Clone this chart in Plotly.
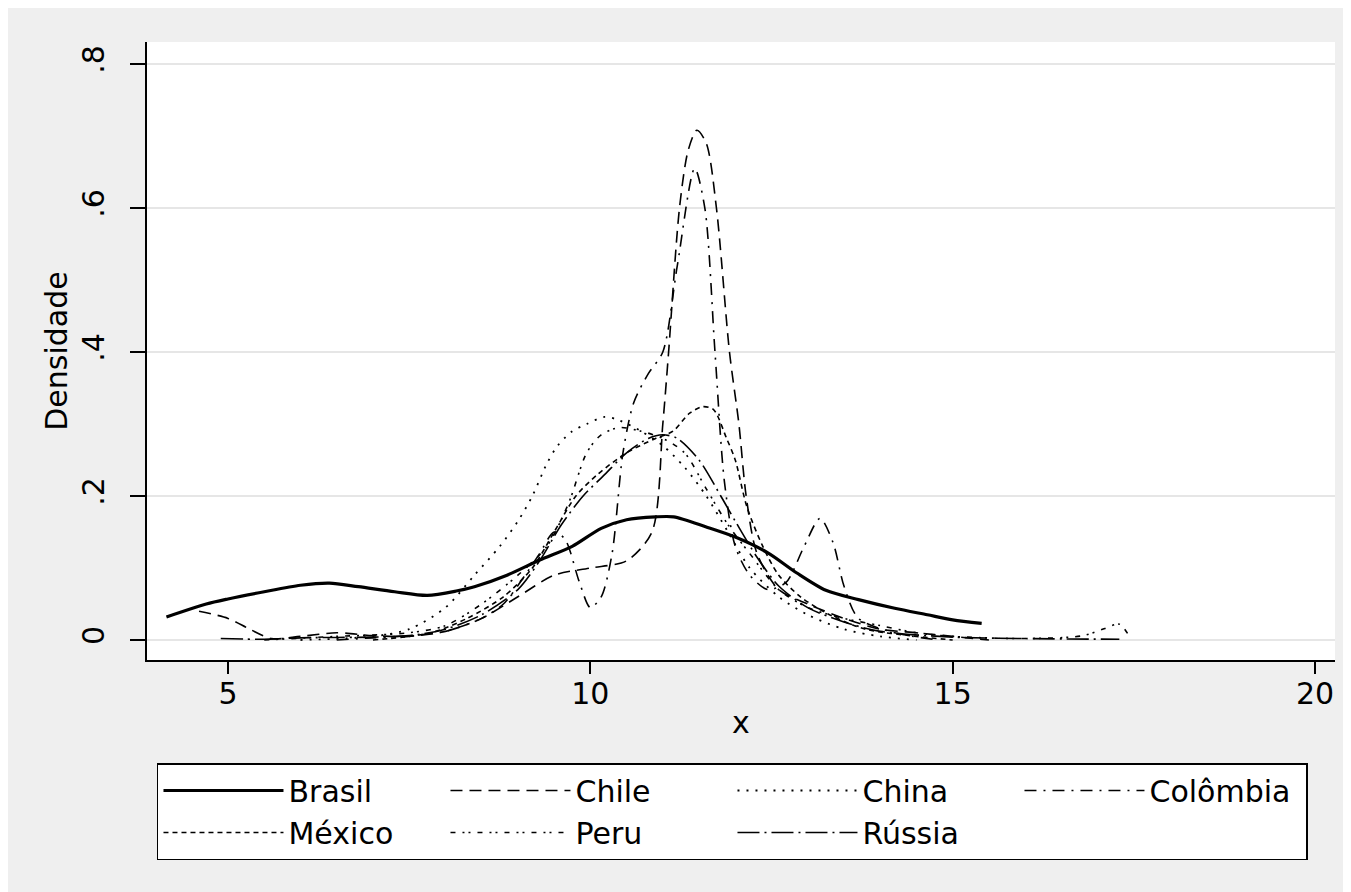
import plotly.graph_objects as go

# ---------------- data ----------------
brasil_x = [4.15, 4.7, 5.0, 5.5, 6.0, 6.4, 6.8, 7.3, 7.75, 8.15, 8.4, 8.85, 9.3, 9.75, 10.15,
            10.5, 10.9, 11.15, 11.6, 12.0, 12.45, 12.85, 13.25, 13.7, 14.2, 14.65, 15.0, 15.4]
brasil_y = [0.032, 0.05, 0.057, 0.067, 0.076, 0.079, 0.074, 0.067, 0.062, 0.068, 0.074, 0.09,
            0.111, 0.13, 0.155, 0.167, 0.171, 0.171, 0.157, 0.143, 0.121, 0.093, 0.069, 0.056,
            0.044, 0.035, 0.028, 0.023]

chile_x = [4.6, 5.0, 5.3, 5.6, 6.0, 6.5, 7.0, 7.5, 8.0, 8.5, 9.0, 9.5, 10.0, 10.5, 10.85, 11.0,
           11.08, 11.23, 11.35, 11.47, 11.6, 11.74, 11.92, 12.05, 12.15, 12.3, 12.6, 13.0, 13.5,
           14.0, 14.5, 15.0, 15.5]
chile_y = [0.04, 0.03, 0.015, 0.002, 0.005, 0.01, 0.006, 0.005, 0.012, 0.03, 0.06, 0.09, 0.10,
           0.11, 0.15, 0.30, 0.40, 0.60, 0.68, 0.708, 0.69, 0.60, 0.40, 0.30, 0.20, 0.12, 0.07,
           0.05, 0.03, 0.015, 0.01, 0.005, 0.0]

china_x = [6.0, 7.0, 7.5, 8.0, 8.4, 8.75, 9.0, 9.2, 9.4, 9.55, 9.75, 9.95, 10.2, 10.4, 10.7,
           11.0, 11.3, 11.6, 11.9, 12.2, 12.6, 13.0, 13.5, 14.0, 14.5]
china_y = [0.0, 0.005, 0.015, 0.045, 0.09, 0.13, 0.165, 0.2, 0.245, 0.27, 0.29, 0.30, 0.31,
           0.305, 0.29, 0.27, 0.24, 0.2, 0.15, 0.1, 0.06, 0.035, 0.015, 0.005, 0.0]

colombia_x = [6.5, 7.0, 7.5, 8.0, 8.5, 8.8, 9.1, 9.3, 9.5, 9.65, 9.85, 10.0, 10.15, 10.3, 10.45,
              10.6, 10.8, 11.0, 11.2, 11.44, 11.58, 11.72, 11.85, 12.0, 12.2, 12.45, 12.7, 12.95,
              13.17, 13.35, 13.5, 13.7, 14.2, 14.8]
colombia_y = [0.0, 0.003, 0.006, 0.012, 0.03, 0.05, 0.09, 0.12, 0.15, 0.14, 0.08, 0.045, 0.06,
              0.12, 0.26, 0.33, 0.37, 0.40, 0.52, 0.655, 0.60, 0.40, 0.22, 0.13, 0.09, 0.07, 0.08,
              0.13, 0.169, 0.135, 0.075, 0.03, 0.01, 0.0]

mexico_x = [7.0, 7.8, 8.3, 8.8, 9.2, 9.5, 9.8, 10.1, 10.5, 10.9, 11.14, 11.37, 11.55, 11.7,
            11.88, 12.0, 12.16, 12.38, 12.6, 12.9, 13.3, 13.8, 14.5, 15.0]
mexico_y = [0.0, 0.01, 0.03, 0.06, 0.1, 0.15, 0.2, 0.23, 0.26, 0.28, 0.29, 0.315, 0.324, 0.32,
            0.28, 0.25, 0.185, 0.13, 0.09, 0.06, 0.035, 0.015, 0.005, 0.0]

peru_x = [5.5, 6.5, 7.5, 8.0, 8.5, 9.0, 9.4, 9.7, 9.95, 10.15, 10.4, 10.7, 11.0, 11.3, 11.6,
          11.9, 12.2, 12.6, 13.0, 13.5, 14.0, 14.5, 15.0, 16.0, 16.8, 17.1, 17.3, 17.45]
peru_y = [0.0, 0.005, 0.01, 0.02, 0.05, 0.09, 0.13, 0.19, 0.26, 0.285, 0.295, 0.29, 0.28, 0.26,
          0.21, 0.16, 0.12, 0.07, 0.045, 0.03, 0.02, 0.01, 0.005, 0.002, 0.006, 0.016, 0.022,
          0.003]

russia_x = [4.9, 5.5, 6.0, 7.0, 7.5, 8.0, 8.5, 9.0, 9.3, 9.6, 9.9, 10.2, 10.5, 10.8, 11.0, 11.2,
            11.5, 11.8, 12.0, 12.3, 12.6, 13.0, 13.5, 14.0, 15.0, 16.0, 17.3]
russia_y = [0.002, 0.001, 0.003, 0.004, 0.006, 0.015, 0.035, 0.07, 0.11, 0.16, 0.20, 0.23, 0.26,
            0.28, 0.285, 0.28, 0.25, 0.2, 0.165, 0.115, 0.075, 0.045, 0.025, 0.012, 0.004,
            0.002, 0.001]

series_names = ["Brasil", "Chile", "China", "Colômbia", "México", "Peru", "Rússia"]
y_tick_vals = [0, 0.2, 0.4, 0.6, 0.8]
y_tick_text = ["0", ".2", ".4", ".6", ".8"]
x_tick_vals = [5, 10, 15, 20]
x_tick_text = ["5", "10", "15", "20"]

# ---------------- styles ----------------
series = [
    (brasil_x, brasil_y, 3.2, "solid"),
    (chile_x, chile_y, 1.6, "12px,7px"),
    (china_x, china_y, 1.8, "2px,7px"),
    (colombia_x, colombia_y, 1.6, "12px,7px,2px,7px"),
    (mexico_x, mexico_y, 1.6, "5px,4px"),
    (peru_x, peru_y, 1.6, "5px,7px,2px,4px,2px,7px"),
    (russia_x, russia_y, 1.6, "22px,5px,2px,5px"),
]

FONT = "DejaVu Sans, Liberation Sans, Arial, sans-serif"
FS = 30

fig = go.Figure()
for name, (xs, ys, w, dash) in zip(series_names, series):
    fig.add_trace(go.Scatter(
        x=xs, y=ys, name=name, mode="lines",
        line=dict(color="black", width=w, dash=dash, shape="spline", smoothing=0.8),
        hoverinfo="skip",
    ))

fig.update_layout(
    width=1351, height=892,
    margin=dict(l=139, r=24, t=34, b=240),
    paper_bgcolor="#efefef",
    plot_bgcolor="white",
    font=dict(family=FONT, size=FS, color="black"),
    showlegend=True,
    legend=dict(
        orientation="h",
        x=0.0084, y=-0.1667, xanchor="left", yanchor="top",
        bgcolor="white", bordercolor="black", borderwidth=1.5,
        entrywidth=152, entrywidthmode="pixels",
        itemwidth=120,
        font=dict(family=FONT, size=FS, color="black"),
        traceorder="normal",
    ),
)

fig.update_xaxes(
    range=[3.882, 20.276],
    tickvals=x_tick_vals, ticktext=x_tick_text,
    ticks="outside", ticklen=12, tickwidth=1.5, tickcolor="black",
    ticklabelstandoff=-6,
    showline=True, linecolor="black", linewidth=2,
    showgrid=False, zeroline=False,
    title=dict(text="x", standoff=2, font=dict(size=FS)),
    tickfont=dict(size=FS),
)
fig.update_yaxes(
    range=[-0.0278, 0.8306],
    tickvals=y_tick_vals, ticktext=y_tick_text,
    tickangle=-90,
    ticks="outside", ticklen=15, tickwidth=1.5, tickcolor="black",
    ticklabelstandoff=14,
    showline=True, linecolor="black", linewidth=2,
    showgrid=True, gridcolor="#e6e6e6", gridwidth=2,
    zeroline=False,
    title=dict(text="Densidade", standoff=0, font=dict(size=FS)),
    tickfont=dict(size=FS),
)

fig.write_html("out.html")
